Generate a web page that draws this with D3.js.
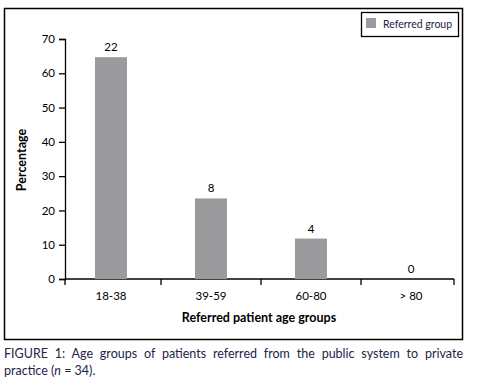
<!DOCTYPE html>
<html>
<head>
<meta charset="utf-8">
<script src="https://cdn.jsdelivr.net/npm/d3@7"></script>
<style>
  body { margin: 0; background: #fff; }
  #chart { position: absolute; left: 0; top: 0; }
</style>
</head>
<body>
<div id="chart"></div>
<script>
// Data
const ageGroups = ['18-38', '39-59', '60-80', '> 80'];
const counts = [22, 8, 4, 0];
const percentages = [64.7, 23.5, 11.8, 0];
const yTicks = [0, 10, 20, 30, 40, 50, 60, 70];
const captionLine1 = 'FIGURE 1: Age groups of patients referred from the public system to private';
const captionLine2 = [['practice (', false], ['n', true], [' = 34).', false]];

const width = 481;
const height = 392;
const font = 'Lato, "Open Sans", sans-serif';

const svg = d3.select('#chart')
    .append('svg')
    .attr('width', width)
    .attr('height', height);

// Outer frame
svg.append('rect')
    .attr('x', 4.5).attr('y', 8.5)
    .attr('width', 458).attr('height', 331)
    .attr('fill', 'none')
    .attr('stroke', '#000')
    .attr('stroke-width', 1.5);

// Scales
const x = d3.scaleBand()
    .domain(ageGroups)
    .range([61, 461])
    .paddingInner(0.68)
    .paddingOuter(0.34);

const y = d3.scaleLinear()
    .domain([0, 70])
    .range([279, 39]);

const axisLeft = 65;
const axisRight = 454;

// Y axis
const yAxis = svg.append('g')
    .attr('transform', `translate(${axisLeft},0)`)
    .call(d3.axisLeft(y).tickValues(yTicks).tickSize(6).tickPadding(4));
yAxis.select('.domain').attr('stroke', '#000').attr('stroke-width', 1.3);
yAxis.selectAll('.tick line').attr('stroke', '#000').attr('stroke-width', 1.3);
yAxis.selectAll('.tick text')
    .attr('font-family', font)
    .attr('font-size', 11.5)
    .attr('fill', '#000');

// X axis line and ticks at band boundaries
const step = x.step();
const boundaries = [axisLeft]
    .concat(ageGroups.slice(1).map(g => x(g) - (step - x.bandwidth()) / 2))
    .concat([axisRight]);

svg.append('line')
    .attr('x1', axisLeft).attr('x2', axisRight)
    .attr('y1', y(0)).attr('y2', y(0))
    .attr('stroke', '#000').attr('stroke-width', 1.3);

svg.append('g')
    .selectAll('line')
    .data(boundaries)
    .join('line')
    .attr('x1', d => d).attr('x2', d => d)
    .attr('y1', y(0)).attr('y2', y(0) + 6)
    .attr('stroke', '#000').attr('stroke-width', 1.3);

// X tick labels
svg.append('g')
    .selectAll('text')
    .data(ageGroups)
    .join('text')
    .attr('x', d => x(d) + x.bandwidth() / 2)
    .attr('y', 300)
    .attr('text-anchor', 'middle')
    .attr('font-family', font)
    .attr('font-size', 11.5)
    .text(d => d);

// Bars
svg.append('g')
    .selectAll('rect')
    .data(percentages)
    .join('rect')
    .attr('x', (d, i) => x(ageGroups[i]))
    .attr('y', d => y(d))
    .attr('width', x.bandwidth())
    .attr('height', d => y(0) - y(d))
    .attr('fill', '#9b9b9e');

// Count labels
svg.append('g')
    .selectAll('text')
    .data(counts)
    .join('text')
    .attr('x', (d, i) => x(ageGroups[i]) + x.bandwidth() / 2)
    .attr('y', (d, i) => y(percentages[i]) - 6)
    .attr('text-anchor', 'middle')
    .attr('font-family', font)
    .attr('font-size', 11.5)
    .text(d => d);

// Axis titles
svg.append('text')
    .attr('transform', 'translate(26,160) rotate(-90)')
    .attr('text-anchor', 'middle')
    .attr('font-family', font)
    .attr('font-size', 12.5)
    .attr('font-weight', 'bold')
    .text('Percentage');

svg.append('text')
    .attr('x', 259)
    .attr('y', 322)
    .attr('text-anchor', 'middle')
    .attr('font-family', font)
    .attr('font-size', 12.5)
    .attr('font-weight', 'bold')
    .text('Referred patient age groups');

// Legend
const legend = svg.append('g');
legend.append('rect')
    .attr('x', 361.5).attr('y', 12.5)
    .attr('width', 97).attr('height', 24)
    .attr('fill', '#fff')
    .attr('stroke', '#000')
    .attr('stroke-width', 1.3);
legend.append('rect')
    .attr('x', 366).attr('y', 18)
    .attr('width', 10).attr('height', 10)
    .attr('fill', '#9b9b9e');
legend.append('text')
    .attr('x', 383).attr('y', 28)
    .attr('font-family', font)
    .attr('font-size', 10.5)
    .attr('fill', '#1c1c40')
    .text('Referred group');

// Caption, first line justified to the frame width
const line1 = svg.append('text')
    .attr('x', 4)
    .attr('y', 358)
    .attr('font-family', font)
    .attr('font-size', 12.5)
    .attr('fill', '#23234a')
    .text(captionLine1);

const natural = line1.node().getComputedTextLength();
const gaps = captionLine1.split(' ').length - 1;
line1.attr('word-spacing', (459 - natural) / gaps);

svg.append('text')
    .attr('x', 4)
    .attr('y', 375)
    .attr('font-family', font)
    .attr('font-size', 12.5)
    .attr('fill', '#23234a')
    .selectAll('tspan')
    .data(captionLine2)
    .join('tspan')
    .attr('font-style', d => d[1] ? 'italic' : 'normal')
    .text(d => d[0]);
</script>
</body>
</html>
